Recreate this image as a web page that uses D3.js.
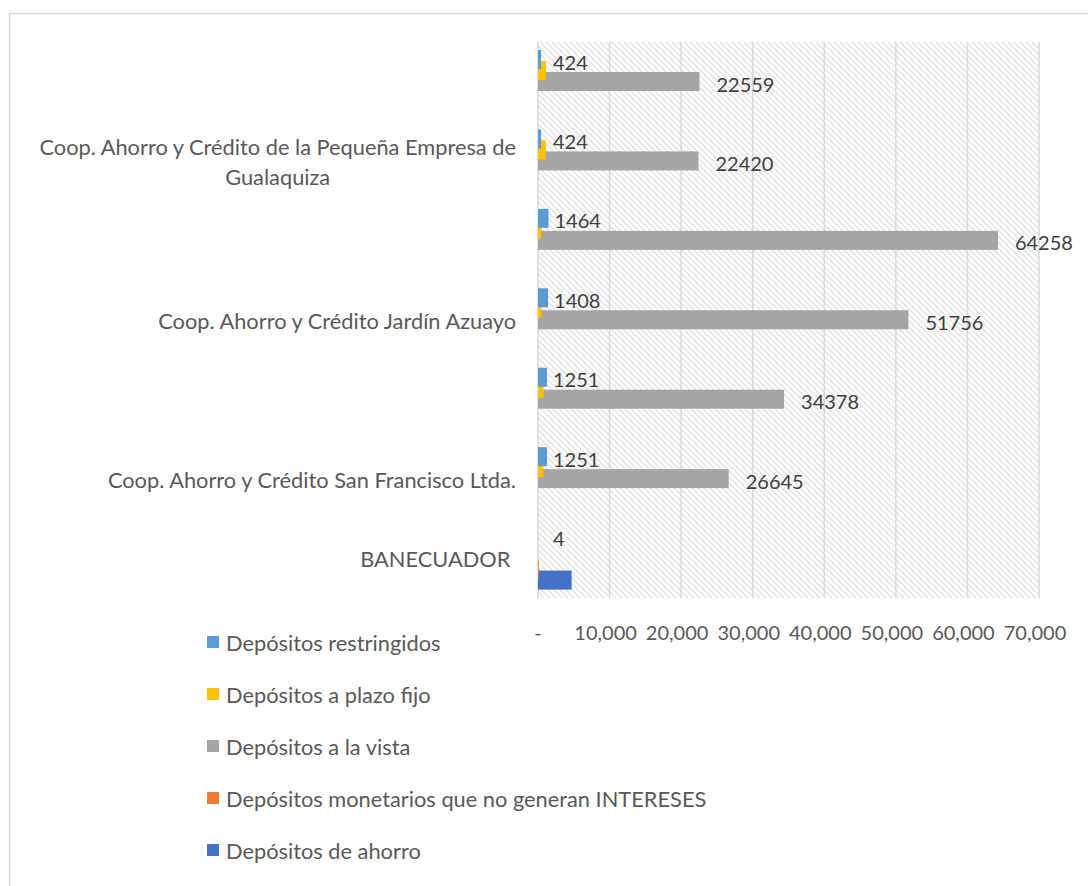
<!DOCTYPE html>
<html>
<head>
<meta charset="utf-8">
<script src="https://cdn.jsdelivr.net/npm/d3@7"></script>
<style>
  body { margin: 0; background: #fff; }
  svg { display: block; font-family: Lato, "Open Sans", sans-serif; }
</style>
</head>
<body>
<svg width="1088" height="886"></svg>
<script>
// categories, top to bottom (Excel hides every other label)
var categories = [
  [""],
  ["Coop. Ahorro y Crédito de la Pequeña Empresa de", "Gualaquiza"],
  [""],
  ["Coop. Ahorro y Crédito Jardín Azuayo"],
  [""],
  ["Coop. Ahorro y Crédito San Francisco Ltda."],
  ["BANECUADOR "]
];

var series = ["Depósitos restringidos", "Depósitos a plazo fijo", "Depósitos a la vista",
              "Depósitos monetarios que no generan INTERESES", "Depósitos de ahorro"];
var colors = ["#5B9BD5", "#FFC000", "#A5A5A5", "#ED7D31", "#4472C4"];

var restringidos = [424, 424, 1464, 1408, 1251, 1251, 4];
var plazoFijo    = [1100, 1100, 470, 470, 750, 750, 0];
var vista        = [22559, 22420, 64258, 51756, 34378, 26645, 0];
var monetarios   = [0, 0, 0, 0, 0, 0, 110];
var ahorro       = [0, 0, 0, 0, 0, 0, 4700];
var values = [restringidos, plazoFijo, vista, monetarios, ahorro];

// which series carry data labels
var labelled = [0, 2];

var xTicks = [0, 10000, 20000, 30000, 40000, 50000, 60000, 70000];

var svg = d3.select("svg");
var textColor = "#595959";
var textSize = "21.8px";

// outer chart frame (cropped at right and bottom)
svg.append("rect")
  .attr("x", 9.5).attr("y", 13.5)
  .attr("width", 1200).attr("height", 1000)
  .attr("fill", "none").attr("stroke", "#d9d9d9").attr("stroke-width", 1.5);

var x = d3.scaleLinear().domain([0, 70000]).range([538, 1039]);
var y = d3.scaleBand().domain(d3.range(categories.length)).range([42, 598]);
// bar offset inside a category band; bars overlap
var barH = 19;
var off = d3.scaleLinear().domain([0, series.length - 1]).range([8, 52]);

// hatched plot background
var defs = svg.append("defs");
var pat = defs.append("pattern")
  .attr("id", "hatch").attr("patternUnits", "userSpaceOnUse")
  .attr("width", 6).attr("height", 6);
pat.append("path")
  .attr("d", "M-1,-1 L7,7 M-7,-1 L1,7 M5,-1 L13,7")
  .attr("stroke", "#e2e2e2").attr("stroke-width", 1.5);

svg.append("rect")
  .attr("x", x(0)).attr("y", y.range()[0])
  .attr("width", x(70000) - x(0)).attr("height", y.range()[1] - y.range()[0])
  .attr("fill", "url(#hatch)");

// gridlines
svg.append("g").selectAll("line")
  .data(xTicks)
  .enter().append("line")
    .attr("x1", function(d) { return x(d); })
    .attr("x2", function(d) { return x(d); })
    .attr("y1", y.range()[0])
    .attr("y2", y.range()[1])
    .attr("stroke", "#d9d9d9")
    .attr("stroke-width", 1.5);

// bars: last series drawn first so the top ones sit above
var order = d3.range(series.length).reverse();
order.forEach(function(s) {
  svg.append("g").selectAll("rect")
    .data(values[s])
    .enter().append("rect")
      .attr("x", x(0))
      .attr("y", function(d, i) { return y(i) + off(s); })
      .attr("width", function(d) { return x(d) - x(0); })
      .attr("height", barH)
      .attr("fill", colors[s]);
});

// data labels
labelled.forEach(function(s) {
  svg.append("g").selectAll("text")
    .data(values[s].map(function(v, i) { return { v: v, i: i }; }).filter(function(d) { return d.v > 0; }))
    .enter().append("text")
      .attr("x", function(d) {
        return s === 2 ? x(d.v) + 17 : Math.max(x(d.v) + 6, x(0) + 15);
      })
      .attr("y", function(d) { return y(d.i) + off(s) + barH / 2 + 2; })
      .attr("dominant-baseline", "central")
      .attr("fill", "#404040")
      .style("font-size", "20px")
      .text(function(d) { return d.v; });
});

// x axis tick labels
var fmt = d3.format(",");
svg.append("g").selectAll("text")
  .data(xTicks)
  .enter().append("text")
    .attr("x", function(d) { return x(d) - (d === 0 ? 0 : 4); })
    .attr("y", 632)
    .attr("text-anchor", "middle")
    .attr("dominant-baseline", "central")
    .attr("fill", textColor)
    .style("font-size", "20px")
    .text(function(d) { return d === 0 ? "-" : fmt(d); });

// category labels, wrapped lines centred on each other, right edge at 516
var catG = svg.append("g");
categories.forEach(function(lines, i) {
  var t = catG.append("text")
    .attr("fill", textColor)
    .style("font-size", textSize)
    .style("white-space", "pre")
    .attr("dominant-baseline", "central");
  var cy = y(i) + y.bandwidth() / 2;
  var lh = 30;
  lines.forEach(function(line, k) {
    t.append("tspan")
      .attr("x", 0)
      .attr("y", cy + (k - (lines.length - 1) / 2) * lh)
      .text(line);
  });
  var w = d3.max(t.selectAll("tspan").nodes(), function(n) { return n.getComputedTextLength(); });
  t.selectAll("tspan")
    .attr("x", 516 - w / 2)
    .attr("text-anchor", "middle");
});

// legend
var leg = svg.append("g").selectAll("g")
  .data(series)
  .enter().append("g")
    .attr("transform", function(d, i) { return "translate(207," + (642 + i * 52) + ")"; });
leg.append("rect")
  .attr("x", 0).attr("y", -6)
  .attr("width", 12).attr("height", 12)
  .attr("fill", function(d, i) { return colors[i]; });
leg.append("text")
  .attr("x", 19).attr("y", 0)
  .attr("dominant-baseline", "central")
  .attr("fill", textColor)
  .style("font-size", textSize)
  .text(function(d) { return d; });
</script>
</body>
</html>
